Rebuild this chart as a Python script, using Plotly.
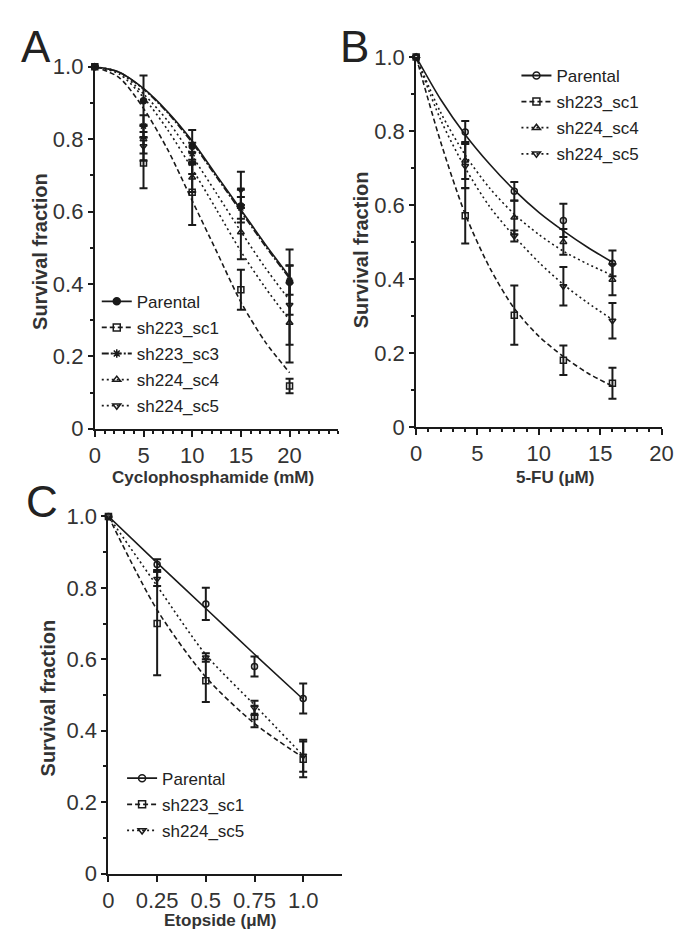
import plotly.graph_objects as go

# ---------------- Panel A : Cyclophosphamide ----------------
A_DOSE = [0, 5, 10, 15, 20]
A_PARENTAL = [1.0, 0.906, 0.78, 0.615, 0.405]
A_PARENTAL_ERR = [0, 0.07, 0.045, 0.045, 0.09]
A_SH223_SC1 = [1.0, 0.734, 0.653, 0.384, 0.118]
A_SH223_SC1_ERR = [0, 0.07, 0.09, 0.055, 0.02]
A_SH223_SC3 = [1.0, 0.836, 0.76, 0.61, 0.41]
A_SH223_SC3_ERR = [0, 0.03, 0.03, 0.03, 0.04]
A_SH224_SC4 = [1.0, 0.80, 0.694, 0.543, 0.293]
A_SH224_SC4_ERR = [0, 0.04, 0.04, 0.075, 0.11]
A_SH224_SC5 = [1.0, 0.78, 0.734, 0.66, 0.342]
A_SH224_SC5_ERR = [0, 0.04, 0.03, 0.05, 0.11]

A_FIT_X = [0, 2.5, 5, 7.5, 10, 12.5, 15, 17.5, 20]
A_PARENTAL_FIT = [1.0, 0.985, 0.94, 0.875, 0.795, 0.70, 0.605, 0.51, 0.42]
A_SH223_SC1_FIT = [1.0, 0.97, 0.885, 0.77, 0.63, 0.49, 0.35, 0.24, 0.155]
A_SH223_SC3_FIT = [1.0, 0.985, 0.938, 0.872, 0.79, 0.695, 0.60, 0.505, 0.415]
A_SH224_SC4_FIT = [1.0, 0.98, 0.915, 0.825, 0.718, 0.605, 0.49, 0.39, 0.30]
A_SH224_SC5_FIT = [1.0, 0.985, 0.925, 0.85, 0.753, 0.65, 0.545, 0.445, 0.355]

# ---------------- Panel B : 5-FU ----------------
B_DOSE = [0, 4, 8, 12, 16]
B_PARENTAL = [1.0, 0.797, 0.637, 0.558, 0.442]
B_PARENTAL_ERR = [0, 0.03, 0.025, 0.045, 0.035]
B_SH223_SC1 = [1.0, 0.571, 0.302, 0.18, 0.118]
B_SH223_SC1_ERR = [0, 0.075, 0.08, 0.04, 0.042]
B_SH224_SC4 = [1.0, 0.72, 0.566, 0.50, 0.398]
B_SH224_SC4_ERR = [0, 0.05, 0.045, 0.035, 0.042]
B_SH224_SC5 = [1.0, 0.705, 0.516, 0.38, 0.287]
B_SH224_SC5_ERR = [0, 0.06, 0.015, 0.052, 0.048]

B_FIT_X = [0, 2, 4, 6, 8, 10, 12, 14, 16]
B_PARENTAL_FIT = [1.0, 0.885, 0.79, 0.71, 0.64, 0.58, 0.53, 0.485, 0.445]
B_SH223_SC1_FIT = [1.0, 0.77, 0.575, 0.43, 0.32, 0.245, 0.19, 0.145, 0.11]
B_SH224_SC4_FIT = [1.0, 0.85, 0.735, 0.645, 0.575, 0.52, 0.475, 0.44, 0.41]
B_SH224_SC5_FIT = [1.0, 0.83, 0.70, 0.595, 0.515, 0.445, 0.385, 0.335, 0.29]

# ---------------- Panel C : Etoposide ----------------
C_DOSE = [0, 0.25, 0.5, 0.75, 1.0]
C_PARENTAL = [1.0, 0.865, 0.755, 0.58, 0.49]
C_PARENTAL_ERR = [0, 0.015, 0.045, 0.028, 0.042]
C_SH223_SC1 = [1.0, 0.70, 0.54, 0.44, 0.32]
C_SH223_SC1_ERR = [0, 0.145, 0.06, 0.03, 0.05]
C_SH224_SC5 = [1.0, 0.825, 0.605, 0.464, 0.33]
C_SH224_SC5_ERR = [0, 0.02, 0.012, 0.02, 0.045]

C_FIT_X = [0, 0.25, 0.5, 0.75, 1.0]
C_PARENTAL_FIT = [1.0, 0.87, 0.742, 0.614, 0.488]
C_SH223_SC1_FIT = [1.0, 0.738, 0.55, 0.42, 0.325]
C_SH224_SC5_FIT = [1.0, 0.805, 0.613, 0.472, 0.33]

Y_TICKS = [0, 0.2, 0.4, 0.6, 0.8, 1.0]
Y_TICK_TEXT = ["0", "0.2", "0.4", "0.6", "0.8", "1.0"]
A_X_TICKS = [0, 5, 10, 15, 20]
B_X_TICKS = [0, 5, 10, 15, 20]
C_X_TICKS = [0, 0.25, 0.5, 0.75, 1.0]
C_X_TICK_TEXT = ["0", "0.25", "0.5", "0.75", "1.0"]

W, H = 685, 936
FONT = "Liberation Sans, Arial, sans-serif"
INK = "#1a1a1a"


def px_x(p):
    return p / W


def px_y(p):
    return 1 - p / H


DASH_SOLID = "solid"
DASH_DASH = "5px,3px"
DASH_DASHDOT = "7px,2px,2px,2px"
DASH_DOT = "2px,3px"

fig = go.Figure()


def add_series(name, ax, fit_x, fit_y, dose, vals, errs, symbol, dash, legend, msize=6):
    xa = "x" if ax == 1 else f"x{ax}"
    ya = "y" if ax == 1 else f"y{ax}"
    fig.add_trace(go.Scatter(
        x=fit_x, y=fit_y, mode="lines", xaxis=xa, yaxis=ya,
        line=dict(color=INK, width=1.6, dash=dash, shape="spline", smoothing=0.8),
        showlegend=False, hoverinfo="skip", cliponaxis=False))
    fig.add_trace(go.Scatter(
        x=dose, y=vals, mode="markers", xaxis=xa, yaxis=ya,
        marker=dict(symbol=symbol, size=msize, color=INK,
                    line=dict(color=INK, width=1.5)),
        error_y=dict(type="data", array=errs, color=INK, thickness=2, width=4),
        showlegend=False, cliponaxis=False))
    fig.add_trace(go.Scatter(
        x=[None], y=[None], mode="lines+markers", name=name, xaxis=xa, yaxis=ya,
        line=dict(color=INK, width=1.8, dash=dash),
        marker=dict(symbol=symbol, size=msize + 1, color=INK,
                    line=dict(color=INK, width=1.5)),
        legend=legend, legendgroup=f"{legend}_{name}", showlegend=True))


# Panel A
add_series("Parental", 1, A_FIT_X, A_PARENTAL_FIT, A_DOSE, A_PARENTAL, A_PARENTAL_ERR,
           "circle", DASH_SOLID, "legend")
add_series("sh223_sc1", 1, A_FIT_X, A_SH223_SC1_FIT, A_DOSE, A_SH223_SC1, A_SH223_SC1_ERR,
           "square-open", DASH_DASH, "legend")
add_series("sh223_sc3", 1, A_FIT_X, A_SH223_SC3_FIT, A_DOSE, A_SH223_SC3, A_SH223_SC3_ERR,
           "asterisk-open", DASH_DASHDOT, "legend")
add_series("sh224_sc4", 1, A_FIT_X, A_SH224_SC4_FIT, A_DOSE, A_SH224_SC4, A_SH224_SC4_ERR,
           "triangle-up-open", DASH_DOT, "legend")
add_series("sh224_sc5", 1, A_FIT_X, A_SH224_SC5_FIT, A_DOSE, A_SH224_SC5, A_SH224_SC5_ERR,
           "triangle-down-open", DASH_DOT, "legend")

# Panel B
add_series("Parental", 2, B_FIT_X, B_PARENTAL_FIT, B_DOSE, B_PARENTAL, B_PARENTAL_ERR,
           "circle-open", DASH_SOLID, "legend2")
add_series("sh223_sc1", 2, B_FIT_X, B_SH223_SC1_FIT, B_DOSE, B_SH223_SC1, B_SH223_SC1_ERR,
           "square-open", DASH_DASH, "legend2")
add_series("sh224_sc4", 2, B_FIT_X, B_SH224_SC4_FIT, B_DOSE, B_SH224_SC4, B_SH224_SC4_ERR,
           "triangle-up-open", DASH_DOT, "legend2")
add_series("sh224_sc5", 2, B_FIT_X, B_SH224_SC5_FIT, B_DOSE, B_SH224_SC5, B_SH224_SC5_ERR,
           "triangle-down-open", DASH_DOT, "legend2")

# Panel C
add_series("Parental", 3, C_FIT_X, C_PARENTAL_FIT, C_DOSE, C_PARENTAL, C_PARENTAL_ERR,
           "circle-open", DASH_SOLID, "legend3")
add_series("sh223_sc1", 3, C_FIT_X, C_SH223_SC1_FIT, C_DOSE, C_SH223_SC1, C_SH223_SC1_ERR,
           "square-open", DASH_DASH, "legend3")
add_series("sh224_sc5", 3, C_FIT_X, C_SH224_SC5_FIT, C_DOSE, C_SH224_SC5, C_SH224_SC5_ERR,
           "triangle-down-open", DASH_DOT, "legend3")

tickfont = dict(family=FONT, size=22, color="#333")


def xaxis(domain_px, rng, tickvals, ticktext, minor_dtick, anchor):
    d = dict(domain=[px_x(domain_px[0]), px_x(domain_px[1])], range=rng,
             tickmode="array", tickvals=tickvals, ticktext=ticktext,
             ticks="outside", ticklen=6, tickwidth=2, tickcolor=INK,
             showline=True, linecolor=INK, linewidth=2, showgrid=False,
             zeroline=False, tickfont=tickfont, anchor=anchor, fixedrange=True)
    if minor_dtick:
        d["minor"] = dict(tickmode="linear", tick0=0, dtick=minor_dtick, ticks="outside",
                          ticklen=3, tickwidth=1.5, tickcolor=INK, showgrid=False)
    return d


def yaxis(domain_px, anchor):
    return dict(domain=[px_y(domain_px[1]), px_y(domain_px[0])], range=[0, 1.0],
                tickmode="array", tickvals=Y_TICKS, ticktext=Y_TICK_TEXT,
                ticks="outside", ticklen=5, tickwidth=2, tickcolor=INK,
                minor=dict(tickmode="linear", tick0=0, dtick=0.1, ticks="outside",
                           ticklen=3, tickwidth=1.5, tickcolor=INK, showgrid=False),
                showline=True, linecolor=INK, linewidth=2, showgrid=False,
                zeroline=False, tickfont=tickfont, anchor=anchor, fixedrange=True)


legfont = dict(family=FONT, size=17, color="#222")


def legend(xp, yp):
    return dict(x=px_x(xp), y=px_y(yp), xanchor="left", yanchor="top",
                bgcolor="rgba(0,0,0,0)", font=legfont, tracegroupgap=1,
                itemwidth=30, borderwidth=0)


fig.update_layout(
    width=W, height=H, margin=dict(l=0, r=0, t=0, b=0),
    paper_bgcolor="white", plot_bgcolor="white",
    font=dict(family=FONT, color="#222"),
    xaxis=xaxis([83, 333], [0, 25], A_X_TICKS, [str(v) for v in A_X_TICKS], 1, "y"),
    yaxis=yaxis([48, 420], "x"),
    xaxis2=xaxis([413, 665], [0, 20], B_X_TICKS, [str(v) for v in B_X_TICKS], 1, "y2"),
    yaxis2=yaxis([38, 418], "x2"),
    xaxis3=xaxis([97, 337], [0, 1.2], C_X_TICKS, C_X_TICK_TEXT, None, "y3"),
    yaxis3=yaxis([510, 877], "x3"),
    legend=legend(85, 271),
    legend2=legend(516, 39),
    legend3=legend(111, 761),
    showlegend=True,
)

annotations = []
titlefont = dict(family=FONT, size=17, color="#333")
ytitlefont = dict(family=FONT, size=20, color="#333")
for txt, xc, yc in [("<b>Cyclophosphamide (mM)</b>", 204, 470),
                    ("<b>5-FU (μM)</b>", 556, 470),
                    ("<b>Etopside (μM)</b>", 212, 925)]:
    annotations.append(dict(text=txt, x=px_x(xc), y=px_y(yc), xref="paper", yref="paper",
                            xanchor="center", yanchor="middle", showarrow=False, font=titlefont))
for xc, yc in [(26, 238), (356, 236), (35, 697)]:
    annotations.append(dict(text="<b>Survival fraction</b>", x=px_x(xc), y=px_y(yc),
                            xref="paper", yref="paper", xanchor="center", yanchor="middle",
                            textangle=-90, showarrow=False, font=ytitlefont))
for letter, xc, yc in [("A", 23, 27), ("B", 350, 27), ("C", 29, 495)]:
    annotations.append(dict(text=letter, x=px_x(xc), y=px_y(yc), xref="paper", yref="paper",
                            xanchor="center", yanchor="middle", showarrow=False,
                            font=dict(family=FONT, size=44, color="#222")))
fig.update_layout(annotations=annotations)

fig.write_html("out.html")
